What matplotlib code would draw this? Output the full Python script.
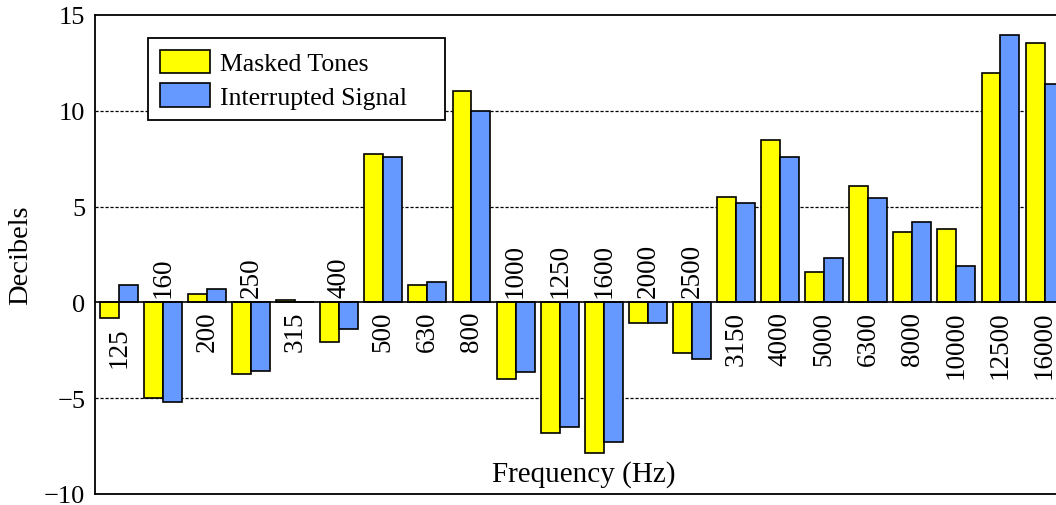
import matplotlib
matplotlib.use("Agg")
import matplotlib.pyplot as plt
import numpy as np

freqs = ["125", "160", "200", "250", "315", "400", "500", "630", "800", "1000", "1250",
         "1600", "2000", "2500", "3150", "4000", "5000", "6300", "8000", "10000", "12500", "16000"]
masked = [-0.8, -5.0, 0.45, -3.75, 0.1, -2.05, 7.75, 0.9, 11.05, -4.0, -6.8,
          -7.85, -1.05, -2.65, 5.5, 8.45, 1.6, 6.05, 3.65, 3.83, 11.95, 13.55]
interrupted = [0.9, -5.2, 0.72, -3.6, 0.0, -1.4, 7.6, 1.07, 10.0, -3.65, -6.5,
               -7.3, -1.05, -2.95, 5.18, 7.6, 2.3, 5.44, 4.2, 1.88, 13.95, 11.4]

plt.rcParams['font.family'] = ['Liberation Serif', 'DejaVu Serif']

fig = plt.figure(figsize=(10.56, 5.06), dpi=100)
ax = fig.add_axes([95 / 1056, 11 / 506, 976 / 1056, 479 / 506])

x = np.arange(len(freqs))
w = 0.43
ax.bar(x - w / 2, masked, w, color='#ffff00', edgecolor='black', linewidth=1.2,
       label='Masked Tones', zorder=3)
ax.bar(x + w / 2, interrupted, w, color='#6699ff', edgecolor='black', linewidth=1.2,
       label='Interrupted Signal    ', zorder=3)

ax.set_xlim(-0.54, 21.6)
ax.set_ylim(-10, 15)
ax.set_yticks([-10, -5, 0, 5, 10, 15])
ax.tick_params(axis='y', labelsize=19, length=0, pad=7)
ax.set_xticks([])
for v in [-5, 5, 10]:
    ax.axhline(v, color='black', linestyle=(0, (2.5, 1.5)), linewidth=0.9, zorder=1)
ax.axhline(0, color='black', linewidth=1.2, zorder=4)

for s in ['left', 'top', 'bottom']:
    ax.spines[s].set_linewidth(1.3)
ax.spines['right'].set_visible(False)

# frequency labels sit on the opposite side of the bars
for i, f in enumerate(freqs):
    lo = min(0, masked[i], interrupted[i])
    if masked[i] + interrupted[i] >= 0:
        ax.annotate(f, (i, lo), xytext=(0, -6), textcoords='offset points',
                    rotation=90, ha='center', va='top', fontsize=19.5)
    else:
        ax.annotate(f, (i, 0), xytext=(0, 4), textcoords='offset points',
                    rotation=90, ha='center', va='bottom', fontsize=19.5)

ax.text(0.501, 0.042, 'Frequency (Hz)', transform=ax.transAxes, ha='center',
        va='center', fontsize=21)
ax.set_ylabel('Decibels', fontsize=20.5, labelpad=8)

leg = ax.legend(loc='upper left', bbox_to_anchor=(0.0543, 0.952), borderaxespad=0,
                fontsize=18.5, fancybox=False, framealpha=1, edgecolor='black',
                handlelength=1.95, handleheight=1.05, labelspacing=0.3,
                handletextpad=0.4, borderpad=0.45)
leg.get_frame().set_linewidth(1.3)

fig.savefig('out.png', dpi=100)
